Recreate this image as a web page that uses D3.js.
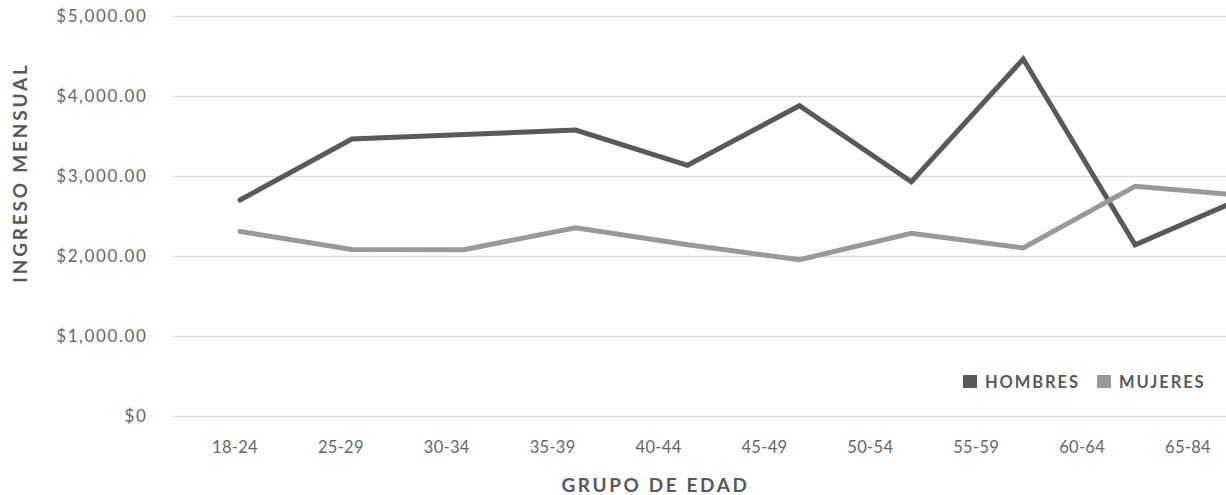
<!DOCTYPE html>
<html>
<head>
<meta charset="utf-8">
<script src="https://cdn.jsdelivr.net/npm/d3@7"></script>
<style>
  html, body { margin: 0; padding: 0; background: #ffffff; }
  svg { display: block; }
  text { font-family: Lato, "Open Sans", sans-serif; }
</style>
</head>
<body>
<svg id="chart" width="1226" height="495"></svg>
<script>
// ---- data ----
const categories = ["18-24","25-29","30-34","35-39","40-44","45-49","50-54","55-59","60-64","65-84"];
const hombres = [2706, 3469, 3525, 3581, 3140, 3884, 2935, 4468, 2147, 2750];
const mujeres = [2313, 2089, 2085, 2359, 2147, 1960, 2289, 2106, 2877, 2760];
const yTicks = [0, 1000, 2000, 3000, 4000, 5000];
const yTickLabels = ["$0", "$1,000.00", "$2,000.00", "$3,000.00", "$4,000.00", "$5,000.00"];
const seriesNames = ["HOMBRES", "MUJERES"];
const xTitle = "GRUPO DE EDAD";
const yTitle = "INGRESO MENSUAL";

// ---- layout ----
const W = 1226, H = 495;
const svg = d3.select("#chart");
const colors = { HOMBRES: "#595959", MUJERES: "#999999" };

const y = d3.scaleLinear().domain([0, 5000]).range([416.5, 16.5]);
const xLine = d3.scalePoint().domain(categories).range([240, 1247]);
const xLabel = d3.scalePoint().domain(categories).range([235, 1188]);

// gridlines
svg.append("g").selectAll("line").data(yTicks).join("line")
  .attr("x1", 174).attr("x2", W)
  .attr("y1", d => y(d)).attr("y2", d => y(d))
  .attr("stroke", "#d9d9d9").attr("stroke-width", 1.6);

// y tick labels
svg.append("g").selectAll("text").data(yTicks).join("text")
  .attr("x", 147.5).attr("y", d => y(d)).attr("dy", "0.35em")
  .attr("text-anchor", "end")
  .attr("fill", "#666666").attr("font-size", 17).attr("letter-spacing", 1.6)
  .text((d, i) => yTickLabels[i]);

// x tick labels
svg.append("g").selectAll("text").data(categories).join("text")
  .attr("x", d => xLabel(d)).attr("y", 453)
  .attr("text-anchor", "middle")
  .attr("fill", "#666666").attr("font-size", 16.5).attr("letter-spacing", 0.3)
  .text(d => d);

// axis titles
svg.append("text")
  .attr("x", 655.5).attr("y", 491.5)
  .attr("text-anchor", "middle")
  .attr("fill", "#595959").attr("font-size", 19).attr("font-weight", "bold").attr("letter-spacing", 2.6)
  .text(xTitle);

svg.append("text")
  .attr("transform", "translate(26.5,172.5) rotate(-90)")
  .attr("text-anchor", "middle")
  .attr("fill", "#595959").attr("font-size", 19).attr("font-weight", "bold").attr("letter-spacing", 2.8)
  .text(yTitle);

// lines
const line = d3.line().x((d, i) => xLine(categories[i])).y(d => y(d));
const seriesData = [ {name: "HOMBRES", values: hombres}, {name: "MUJERES", values: mujeres} ];
svg.append("g").selectAll("path").data(seriesData).join("path")
  .attr("d", d => line(d.values))
  .attr("fill", "none")
  .attr("stroke", d => colors[d.name])
  .attr("stroke-width", 5)
  .attr("stroke-linejoin", "miter")
  .attr("stroke-linecap", "round");

// legend
const legendX = [963, 1097];
const lg = svg.append("g").selectAll("g").data(seriesNames).join("g")
  .attr("transform", (d, i) => `translate(${legendX[i]},375)`);
lg.append("rect").attr("width", 14).attr("height", 13).attr("fill", d => colors[d]);
lg.append("text").attr("x", 22).attr("y", 12.5)
  .attr("fill", "#595959").attr("font-size", 16.5).attr("font-weight", "bold").attr("letter-spacing", 1.9)
  .text(d => d);
</script>
</body>
</html>
